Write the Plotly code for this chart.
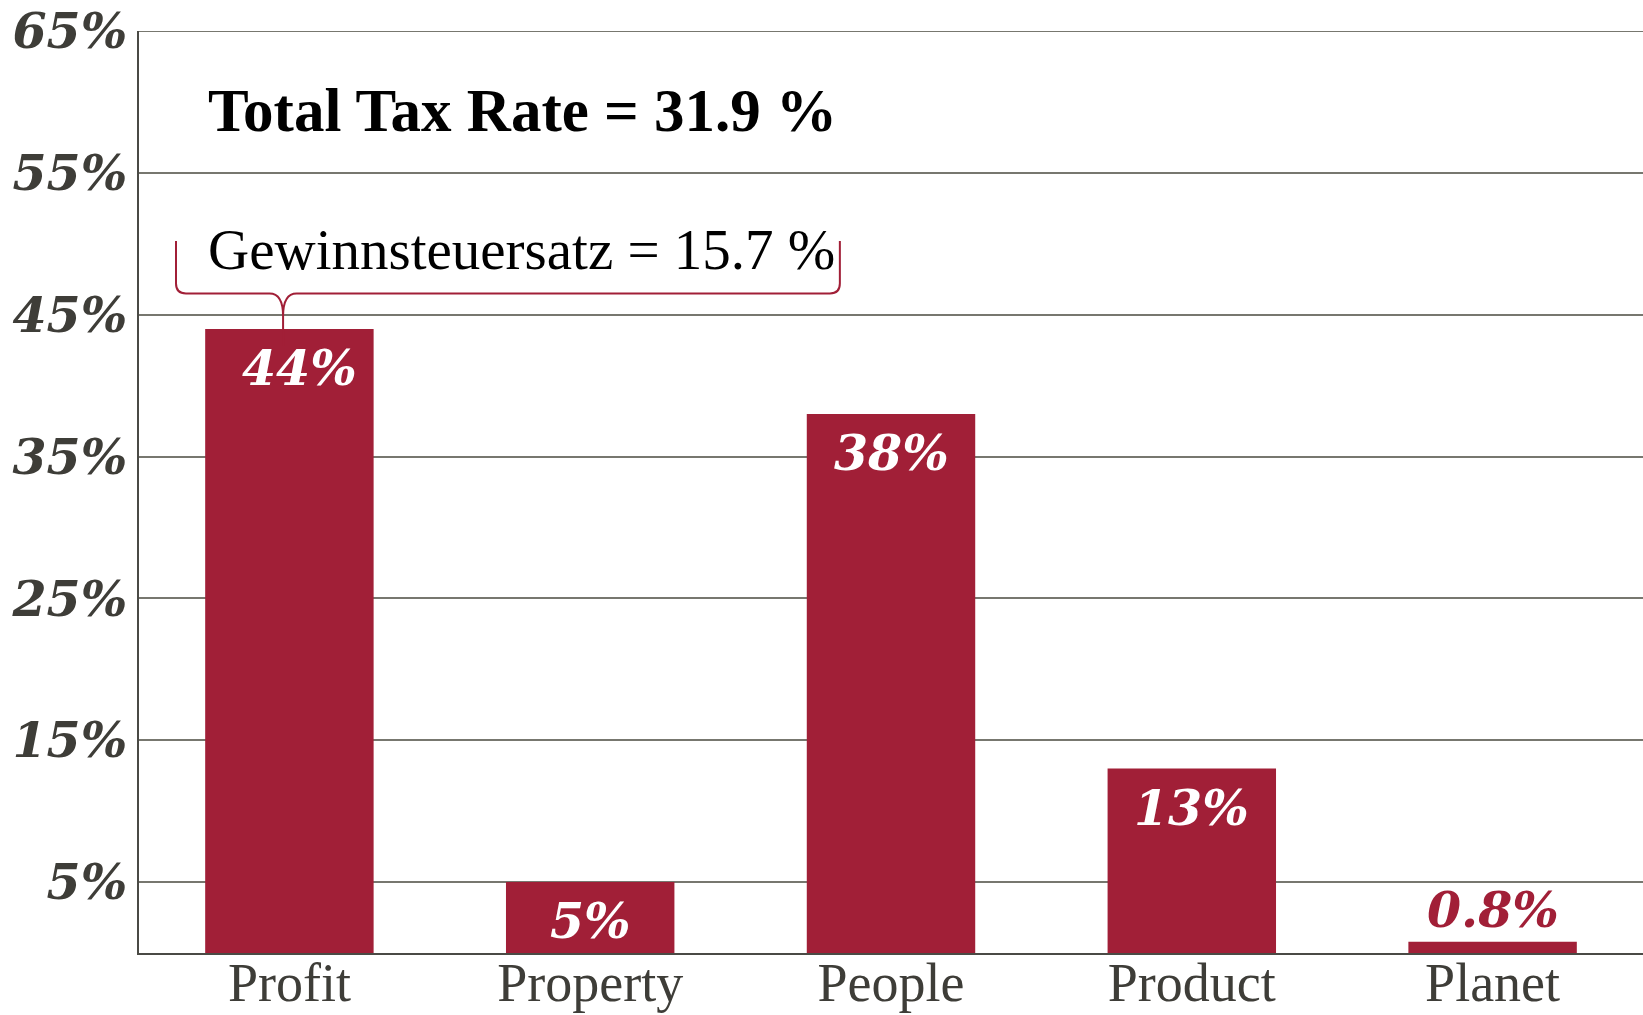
import plotly.graph_objects as go

# Tax contribution by category (share of total tax, %)
categories = ["Profit", "Property", "People", "Product", "Planet"]
shares = [44, 5, 38, 13, 0.8]
y_ticks = [5, 15, 25, 35, 45, 55, 65]
y_tick_labels = [f"{t}%" for t in y_ticks]
total_rate_text = "Total Tax Rate = 31.9 %"
profit_rate_text = "Gewinnsteuersatz = 15.7 %"

BAR = "#A11F37"
INK = "#3E3D38"
GRID = "#77776F"
positions = list(range(len(categories)))

fig = go.Figure()
fig.add_trace(go.Bar(
    x=positions, y=shares, width=0.56,
    marker=dict(color=BAR, line=dict(width=0)),
    hoverinfo="skip",
))

# value labels: inside the bar top, or above very small bars
label_font = dict(family="DejaVu Serif", size=49, weight="bold", style="italic")
for i, v in zip(positions, shares):
    txt = f"{v:g}%"
    if v >= 3:
        fig.add_annotation(x=i, y=v, text=txt, showarrow=False, xanchor="center",
                           yanchor="top", yshift=-8, xshift=10 if i == 0 else 0,
                           font=dict(color="white", **label_font))
    else:
        fig.add_annotation(x=i, y=v, text=txt, showarrow=False, xanchor="center",
                           yanchor="bottom", yshift=1, font=dict(color=BAR, **label_font))

# headline texts
fig.add_annotation(x=-0.277, y=59.4, text=total_rate_text, showarrow=False,
                   xanchor="left", yanchor="middle",
                   font=dict(family="Liberation Serif", size=61, weight="bold", color="#000000"))
fig.add_annotation(x=-0.277, y=49.6, text=profit_rate_text, showarrow=False,
                   xanchor="left", yanchor="middle",
                   font=dict(family="Liberation Serif", size=57, color="#000000"))

# brace under the profit-tax text pointing at the Profit bar
xl, xr, xm = -0.377, 1.83, -0.021
yt, yh, ytip = 50.2, 46.5, 42.8
dx, dy = 0.033, 0.7
path = (f"M {xl},{yt} L {xl},{yh+dy} Q {xl},{yh} {xl+dx},{yh} "
        f"L {xm-0.045},{yh} Q {xm},{yh} {xm},{yh-1.6} L {xm},{ytip} "
        f"M {xm},{yh-1.6} Q {xm},{yh} {xm+0.045},{yh} "
        f"L {xr-dx},{yh} Q {xr},{yh} {xr},{yh+dy} L {xr},{yt}")
fig.add_shape(type="path", path=path, xref="x", yref="y",
              line=dict(color=BAR, width=2), layer="above")

# top gridline sits on the edge of the range, draw it explicitly
fig.add_shape(type="line", xref="paper", yref="y", x0=0, x1=1,
              y0=y_ticks[-1], y1=y_ticks[-1], line=dict(color=GRID, width=2), layer="below")

fig.update_layout(
    width=1643, height=1015,
    margin=dict(l=139, r=0, t=31, b=62),
    paper_bgcolor="white", plot_bgcolor="white",
    showlegend=False,
)
fig.update_xaxes(
    range=[-0.5, 4.5], tickvals=positions, ticktext=categories,
    showgrid=False, zeroline=False, automargin=False,
    showline=True, linecolor="#4A4A45", linewidth=2,
    ticks="", ticklabelstandoff=-19,
    tickfont=dict(family="Liberation Serif", size=54, color=INK),
)
fig.update_yaxes(
    range=[0, 65], tickvals=y_ticks, ticktext=y_tick_labels,
    showgrid=True, gridcolor=GRID, gridwidth=2, zeroline=False, automargin=False,
    showline=True, linecolor="#4A4A45", linewidth=2,
    ticks="", ticklabelstandoff=0,
    tickfont=dict(family="DejaVu Serif", size=49, weight="bold", style="italic", color=INK),
)

fig.write_html("out.html")
